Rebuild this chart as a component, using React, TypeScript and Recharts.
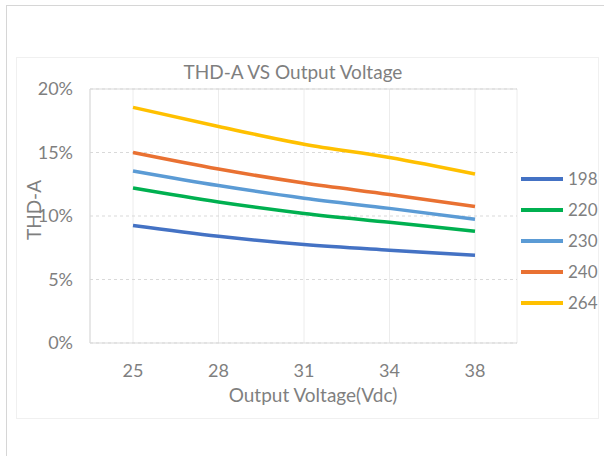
import { LineChart, Line, XAxis, YAxis, CartesianGrid, ReferenceLine, Label } from 'recharts'

const voltages = ['25', '28', '31', '34', '38']
const v198 = [9.25, 8.4, 7.75, 7.3, 6.9]
const v220 = [12.2, 11.1, 10.2, 9.5, 8.8]
const v230 = [13.55, 12.4, 11.4, 10.6, 9.75]
const v240 = [15.0, 13.7, 12.6, 11.7, 10.75]
const v264 = [18.55, 17.05, 15.65, 14.6, 13.3]
const yTicks = [0, 5, 10, 15, 20]

const series = [
  { key: '198', values: v198, color: '#4472C4' },
  { key: '220', values: v220, color: '#00B050' },
  { key: '230', values: v230, color: '#5B9BD5' },
  { key: '240', values: v240, color: '#E97132' },
  { key: '264', values: v264, color: '#FFC000' },
]

const data = voltages.map((v, i) => {
  const row: any = { v }
  series.forEach((s) => (row[s.key] = s.values[i]))
  return row
})

const FONT = 'Lato, "Open Sans", sans-serif'
const TXT = '#7f7f7f'
const GRID = '#d9d9d9'
const VGRID = '#ececec'

const YLabel = ({ viewBox }: any) => {
  const y = viewBox.y + viewBox.height / 2 - 6
  return (
    <text x={41} y={y} transform={`rotate(-90 41 ${y})`} textAnchor="middle" fill={TXT} fontSize={19} fontFamily={FONT}>
      THD-A
    </text>
  )
}

export default function App() {
  return (
    <div style={{ position: 'absolute', left: 0, top: 0, width: 604, height: 456, background: '#fff', fontFamily: FONT }}>
      <div style={{ position: 'absolute', left: 6, top: 5, width: 700, height: 500, border: '1.5px solid #d6d6d6' }} />
      <div style={{ position: 'absolute', left: 16, top: 57, width: 581, height: 360, border: '1px solid #f0f0f0' }} />
      <div style={{ position: 'absolute', left: 90, width: 406, top: 60, textAlign: 'center', fontSize: 19, color: TXT, lineHeight: '24px' }}>
        THD-A VS Output Voltage
      </div>
      <div style={{ position: 'absolute', left: 90, width: 446, top: 383, textAlign: 'center', fontSize: 19, color: TXT, lineHeight: '24px' }}>
        Output Voltage(Vdc)
      </div>
      <div style={{ position: 'absolute', left: 0, top: 0 }}>
        <LineChart width={604} height={456} data={data} margin={{ top: 89, right: 87, bottom: 83, left: 0 }}>
          <CartesianGrid horizontal={false} vertical stroke={VGRID} />
          <CartesianGrid vertical={false} stroke={GRID} strokeDasharray="3 3" />
          <ReferenceLine y={20} stroke={GRID} strokeWidth={1} />
          <XAxis
            dataKey="v"
            padding={{ left: 43, right: 42 }}
            tickLine={false}
            axisLine={{ stroke: GRID }}
            tick={{ fill: TXT, fontSize: 18, fontFamily: FONT }}
            tickMargin={15}
            height={30}
          />
          <YAxis
            domain={[0, 20]}
            ticks={yTicks}
            tickFormatter={(t) => `${t}%`}
            tickLine={false}
            axisLine={{ stroke: GRID }}
            tick={{ fill: TXT, fontSize: 18, fontFamily: FONT }}
            tickMargin={11}
            width={90}
            interval={0}
          >
            <Label content={<YLabel />} />
          </YAxis>
          <YAxis yAxisId="r" orientation="right" width={0} tick={false} tickLine={false} axisLine={{ stroke: GRID }} />
          {series.map((s) => (
            <Line
              key={s.key}
              dataKey={s.key}
              type="monotone"
              stroke={s.color}
              strokeWidth={3.5}
              dot={false}
              isAnimationActive={false}
            />
          ))}
        </LineChart>
      </div>
      <div style={{ position: 'absolute', left: 521, top: 163 }}>
        {series.map((s) => (
          <div key={s.key} style={{ display: 'flex', alignItems: 'center', height: 31 }}>
            <div style={{ width: 42, height: 4, background: s.color }} />
            <span style={{ marginLeft: 5, fontSize: 17, color: TXT }}>{s.key}</span>
          </div>
        ))}
      </div>
    </div>
  )
}
